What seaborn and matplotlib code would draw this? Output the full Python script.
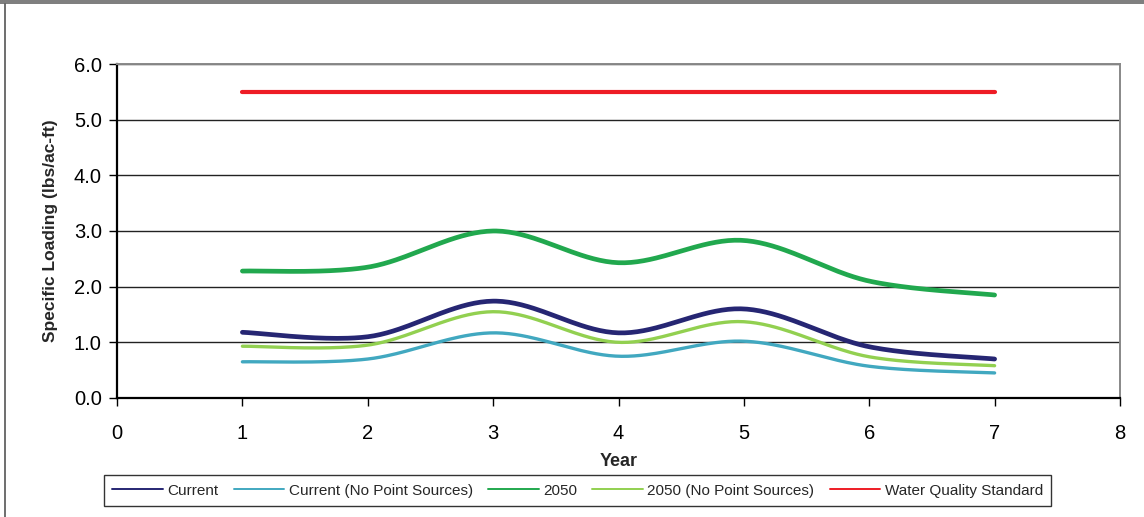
import numpy as np
import pandas as pd
import matplotlib
matplotlib.use("Agg")
import matplotlib.pyplot as plt
from matplotlib.lines import Line2D
import seaborn as sns

years = [1, 2, 3, 4, 5, 6, 7]
current = [1.18, 1.10, 1.74, 1.17, 1.60, 0.92, 0.70]
current_nps = [0.65, 0.70, 1.17, 0.75, 1.02, 0.57, 0.45]
y2050 = [2.28, 2.35, 3.00, 2.43, 2.83, 2.10, 1.85]
y2050_nps = [0.93, 0.95, 1.55, 1.00, 1.37, 0.74, 0.58]
standard = [5.5, 5.5, 5.5, 5.5, 5.5, 5.5, 5.5]

series_names = ["Current", "Current (No Point Sources)", "2050",
                "2050 (No Point Sources)", "Water Quality Standard"]
series_values = [current, current_nps, y2050, y2050_nps, standard]
colors = ["#262673", "#41A8C0", "#21A84E", "#92D050", "#EE1C25"]
widths = [3.4, 2.4, 3.4, 2.4, 3.0]


def smooth(xs, ys, n=40):
    """Bezier smoothing through each point (spreadsheet-style smoothed line)."""
    xs = np.asarray(xs, float)
    ys = np.asarray(ys, float)
    px = np.concatenate([[xs[0]], xs, [xs[-1]]])
    py = np.concatenate([[ys[0]], ys, [ys[-1]]])
    out_x, out_y = [], []
    for i in range(1, len(px) - 2):
        p0 = np.array([px[i], py[i]])
        p3 = np.array([px[i + 1], py[i + 1]])
        c1 = p0 + (np.array([px[i + 1], py[i + 1]]) - np.array([px[i - 1], py[i - 1]])) / 6
        c2 = p3 - (np.array([px[i + 2], py[i + 2]]) - np.array([px[i], py[i]])) / 6
        t = np.linspace(0, 1, n, endpoint=(i == len(px) - 3))[:, None]
        pts = ((1 - t) ** 3) * p0 + 3 * ((1 - t) ** 2) * t * c1 + 3 * (1 - t) * t ** 2 * c2 + t ** 3 * p3
        out_x.extend(pts[:, 0])
        out_y.extend(pts[:, 1])
    return np.array(out_x), np.array(out_y)


sns.set_theme(style="white")
plt.rcParams["font.family"] = ["Liberation Sans", "DejaVu Sans"]

fig = plt.figure(figsize=(11.44, 5.17), dpi=100)
ax = fig.add_axes([0.1023, 0.2302, 0.8767, 0.6460])

for name, vals, col, lw in zip(series_names, series_values, colors, widths):
    sx, sy = smooth(years, vals)
    df = pd.DataFrame({"Year": sx, "Value": sy})
    sns.lineplot(data=df, x="Year", y="Value", ax=ax, color=col, linewidth=lw,
                 solid_capstyle="round", sort=False, estimator=None, legend=False)

ax.set_xlim(0, 8)
ax.set_ylim(0, 6)
ax.set_xticks(range(0, 9))
ax.set_yticks(np.arange(0, 6.01, 1.0))
ax.set_yticklabels([f"{v:.1f}" for v in np.arange(0, 6.01, 1.0)])
ax.yaxis.grid(True, color="#222222", linewidth=1.0)
ax.xaxis.grid(False)
ax.set_axisbelow(True)

for side in ["left", "bottom"]:
    ax.spines[side].set_color("black")
    ax.spines[side].set_linewidth(1.6)
for side in ["top", "right"]:
    ax.spines[side].set_color("#888888")
    ax.spines[side].set_linewidth(1.4)

ax.tick_params(axis="both", which="major", direction="out", length=6, width=1,
               color="black", labelsize=14.5, labelcolor="black", bottom=True, left=True)
ax.tick_params(axis="x", pad=13)
ax.tick_params(axis="y", pad=5)

ax.set_xlabel("Year", fontsize=13, fontweight="bold", labelpad=7)
ax.set_ylabel("Specific Loading (lbs/ac-ft)", fontsize=12.5, fontweight="bold", labelpad=11)

handles = [Line2D([0], [0], color=c, linewidth=1.4) for c in colors]
leg = fig.legend(handles, series_names, loc="center", bbox_to_anchor=(0.505, 0.051),
                 ncol=5, frameon=True, fontsize=11, handlelength=3.3, handletextpad=0.3,
                 columnspacing=1.0, borderpad=0.55, fancybox=False)
leg.get_frame().set_edgecolor("black")
leg.get_frame().set_linewidth(1.0)

# outer frame of the chart area
fig.add_artist(plt.Rectangle((0, 1 - 4 / 517), 1, 4 / 517, transform=fig.transFigure,
                             color="#7f7f7f", linewidth=0))
fig.add_artist(Line2D([4.5 / 1144, 4.5 / 1144], [0, 1 - 4 / 517], transform=fig.transFigure,
                      color="#555555", linewidth=1.2))

fig.savefig("out.png", dpi=100)
